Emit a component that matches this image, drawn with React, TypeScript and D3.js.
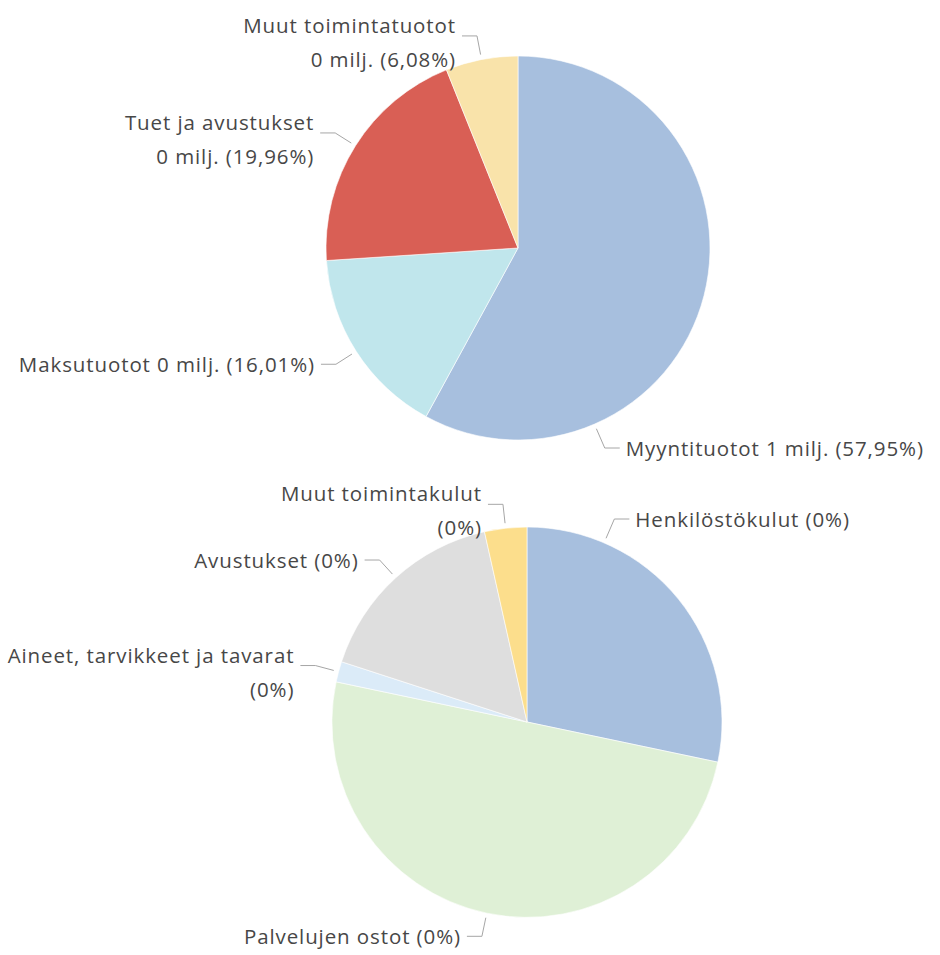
import React, { useEffect, useRef } from 'react';
import * as d3 from 'd3';

// Tuotot (top pie)
const incomeNames = ['Myyntituotot', 'Maksutuotot', 'Tuet ja avustukset', 'Muut toimintatuotot'];
const incomeShares = [57.95, 16.01, 19.96, 6.08];
const incomeLabels = [
  ['Myyntituotot 1 milj. (57,95%)'],
  ['Maksutuotot 0 milj. (16,01%)'],
  ['Tuet ja avustukset', '0 milj. (19,96%)'],
  ['Muut toimintatuotot', '0 milj. (6,08%)'],
];
const incomeColors = ['#A7BFDE', '#C0E6EC', '#D95F55', '#F9E3AA'];

// Kulut (bottom pie)
const costNames = ['Henkilöstökulut', 'Palvelujen ostot', 'Aineet, tarvikkeet ja tavarat', 'Avustukset', 'Muut toimintakulut'];
const costShares = [28.3, 50.0, 1.7, 16.5, 3.5];
const costLabels = [
  ['Henkilöstökulut (0%)'],
  ['Palvelujen ostot (0%)'],
  ['Aineet, tarvikkeet ja tavarat', '(0%)'],
  ['Avustukset (0%)'],
  ['Muut toimintakulut', '(0%)'],
];
const costColors = ['#A7BFDE', '#DFF0D6', '#DBEBF8', '#DEDEDE', '#FCDE8C'];

const W = 940;
const H = 955;
const FONT = '"Open Sans", "DejaVu Sans", sans-serif';

function drawPie(svg, names, values, labels, colors, cx, cy, r) {
  const g = svg.append('g').attr('transform', `translate(${cx},${cy})`);
  const pie = d3.pie().sort(null).value(d => d)(values);
  const arc = d3.arc().innerRadius(0).outerRadius(r);

  g.selectAll('path.slice')
    .data(pie)
    .enter()
    .append('path')
    .attr('class', 'slice')
    .attr('d', arc)
    .attr('fill', (d, i) => colors[i])
    .attr('stroke', '#fff')
    .attr('stroke-width', 0.6);

  const polar = (rad, a) => [rad * Math.sin(a), -rad * Math.cos(a)];

  pie.forEach((d, i) => {
    const lines = labels[i];
    const t = g.append('text')
      .attr('font-family', FONT)
      .attr('font-size', 20.5)
      .attr('letter-spacing', 0.9)
      .attr('fill', '#474747');
    lines.forEach(ln => {
      t.append('tspan').text(ln);
    });
    const width = d3.max(t.selectAll('tspan').nodes(), n => n.getComputedTextLength());

    let a = (d.startAngle + d.endAngle) / 2;
    let right = Math.sin(a) >= 0;
    let rOut = r + 24;
    let elbow = polar(rOut, a);
    // label doesn't fit beside the pie: move it over/under the pie
    if (right && cx + elbow[0] + 23 + width > W - 30) {
      const off = Math.acos((r + 8) / (r + 26));
      const nearTop = a < Math.PI / 2;
      a = nearTop ? off : Math.PI - off;
      rOut = r + 26;
      elbow = polar(rOut, a);
    }
    const start = polar(r + 5, a);
    const endX = elbow[0] + (right ? 15 : -15);

    g.append('polyline')
      .attr('points', [start, elbow, [endX, elbow[1]]].map(p => p.join(',')).join(' '))
      .attr('fill', 'none')
      .attr('stroke', '#a6a6a6')
      .attr('stroke-width', 1);

    const tx = endX + (right ? 6 : -6);
    let y0 = lines.length > 1 ? elbow[1] - 11 : elbow[1];
    if (cy + y0 < 22) y0 = 22 - cy;
    t.attr('text-anchor', right ? 'start' : 'end');
    t.selectAll('tspan')
      .attr('x', tx)
      .attr('y', (s, k) => y0 + k * 34)
      .attr('dominant-baseline', 'central');
  });
}

export default function App() {
  const node = useRef(null);

  useEffect(() => {
    const svg = d3.select(node.current);
    svg.selectAll('*').remove();
    drawPie(svg, incomeNames, incomeShares, incomeLabels, incomeColors, 518, 248, 192);
    drawPie(svg, costNames, costShares, costLabels, costColors, 527, 722, 195);
  }, []);

  return (
    <svg
      ref={node}
      width={W}
      height={H}
      style={{ position: 'absolute', left: 0, top: 0, background: '#fff' }}
    />
  );
}
